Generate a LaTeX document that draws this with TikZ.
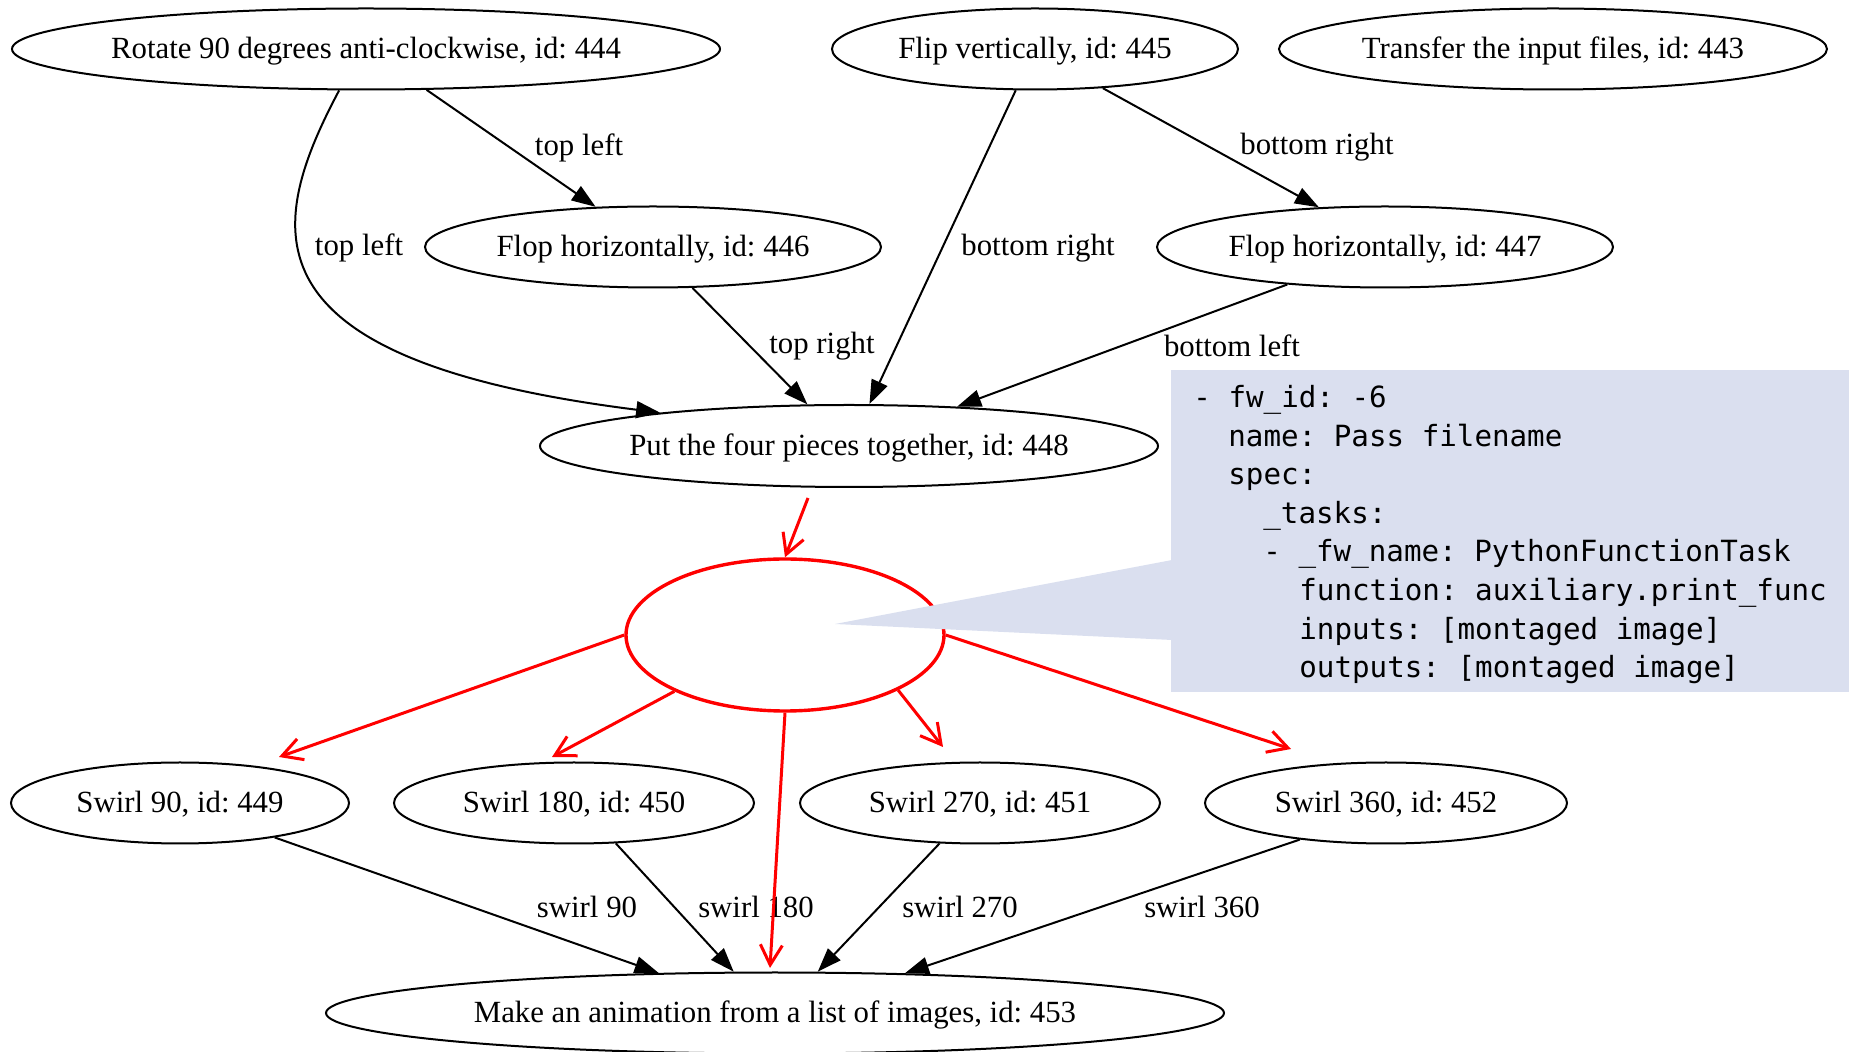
\documentclass[tikz,border=0pt]{standalone}
\usepackage{fontspec}
\setmainfont{Liberation Serif}
\newfontfamily\codefont{DejaVu Sans Mono}
\usetikzlibrary{shapes.geometric,arrows.meta}
\definecolor{calloutbg}{RGB}{218,223,239}
\frenchspacing

\begin{document}
\begin{tikzpicture}[x=0.5pt,y=-0.5pt,
  task/.style={ellipse, draw=black, line width=1pt, inner sep=0pt,
    minimum height=40.5pt, text height=12pt, text depth=2.2pt,
    font=\fontsize{15.4}{18}\selectfont},
  flow/.style={line width=1pt, -{Triangle[length=12pt,width=8.5pt]}},
  edgelabel/.style={inner sep=0pt, font=\fontsize{15.4}{18}\selectfont},
  redflow/.style={red, line width=1.5pt, -{Straight Barb[length=10pt,width=11pt]}},
  codeline/.style={anchor=base west, inner sep=0pt, font=\codefont\fontsize{14.6}{19}\selectfont}
]
\useasboundingbox (0,0) rectangle (1849,1052);

% workflow tasks
\node[task, minimum width=354pt] (n444) at (366,49) {\makebox[0pt]{Rotate 90 degrees anti-clockwise, id: 444}};
\node[task, minimum width=203pt] (n445) at (1035,49) {\makebox[0pt]{Flip vertically, id: 445}};
\node[task, minimum width=274pt] (n443) at (1553,49) {\makebox[0pt]{Transfer the input files, id: 443}};
\node[task, minimum width=228pt] (n446) at (653,247) {\makebox[0pt]{Flop horizontally, id: 446}};
\node[task, minimum width=228pt] (n447) at (1385,247) {\makebox[0pt]{Flop horizontally, id: 447}};
\node[task, minimum width=309pt, minimum height=41pt] (n448) at (849,446) {\makebox[0pt]{Put the four pieces together, id: 448}};
\node[task, minimum width=169pt] (n449) at (180,803) {\makebox[0pt]{Swirl 90, id: 449}};
\node[task, minimum width=180pt] (n450) at (574,803) {\makebox[0pt]{Swirl 180, id: 450}};
\node[task, minimum width=180pt] (n451) at (980,803) {\makebox[0pt]{Swirl 270, id: 451}};
\node[task, minimum width=181pt] (n452) at (1386,803) {\makebox[0pt]{Swirl 360, id: 452}};
\node[task, minimum width=449pt] (n453) at (775,1013) {\makebox[0pt]{Make an animation from a list of images, id: 453}};

% dependencies
\draw[flow] (n444.-34.6) -- (n446.145.1);
\draw[flow] (n444.-123) .. controls (265,230) and (240,360) .. (n448.170);
\draw[flow] (n446.-46.4) -- (n448.135);
\draw[flow] (n445.-115.4) -- (n448.64);
\draw[flow] (n445.-30.2) -- (n447.149.4);
\draw[flow] (n447.-159.4) -- (n448.20.4);
\draw[flow] (n449.-20.9) -- (n453.161.1);
\draw[flow] (n450.-44.6) -- (n453.135);
\draw[flow] (n451.-135) -- (n453.44);
\draw[flow] (n452.-157) -- (n453.17.4);

% edge labels
\node[edgelabel] (l1) at (579,148) {top left};
\node[edgelabel] (l2) at (359,248) {top left};
\node[edgelabel] (l3) at (822,346) {top right};
\node[edgelabel] (l4) at (1038,248) {bottom right};
\node[edgelabel] (l5) at (1317,147) {bottom right};
\node[edgelabel] (l6) at (1232,346) {bottom left};
\node[edgelabel] (l7) at (587,907) {swirl 90};
\node[edgelabel] (l8) at (756,907) {swirl 180};
\node[edgelabel] (l9) at (960,907) {swirl 270};
\node[edgelabel] (l10) at (1202,907) {swirl 360};

% inserted pass-through step
\node[ellipse, draw=red, line width=1.7pt, inner sep=0pt,
  minimum width=159pt, minimum height=76pt] (pass) at (785,635) {};
\coordinate (r0) at (808,498);
\coordinate (t449) at (279,757);
\coordinate (t450) at (552,757);
\coordinate (t453) at (770,968);
\coordinate (t451) at (943,747);
\coordinate (t452) at (1291,749);
\draw[redflow] (r0) -- (pass.north);
\draw[redflow] (pass.west) -- (t449);
\draw[redflow] (pass.-153.8) -- (t450);
\draw[redflow] (pass.south) -- (t453);
\draw[redflow] (pass.-26) -- (t451);
\draw[redflow] (pass.east) -- (t452);

% callout with the step's spec
\node[fill=calloutbg, anchor=north west, inner sep=0pt,
  minimum width=339pt, minimum height=161pt] (note) at (1171,370) {};
\fill[calloutbg] (835,624) -- (1172,560) -- (1172,640) -- cycle;
\node[codeline] (c1) at (1193,408) {- fw\_id: -6};
\node[codeline] (c2) at (1228,447) {name: Pass filename};
\node[codeline] (c3) at (1228,485) {spec:};
\node[codeline] (c4) at (1263,524) {\_tasks:};
\node[codeline] (c5) at (1263,562) {- \_fw\_name: PythonFunctionTask};
\node[codeline] (c6) at (1299,601) {function: auxiliary.print\_func};
\node[codeline] (c7) at (1299,640) {inputs: [montaged image]};
\node[codeline] (c8) at (1299,678) {outputs: [montaged image]};
\end{tikzpicture}
\end{document}
